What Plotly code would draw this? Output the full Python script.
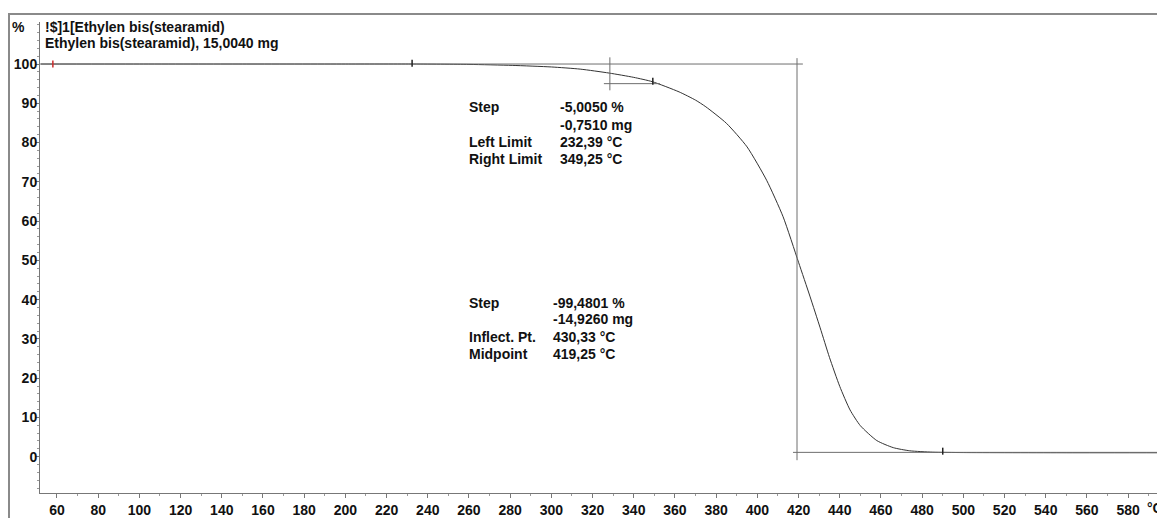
import plotly.graph_objects as go

# ---- data ----
temp_c = [52, 100, 150, 200, 232, 260, 281, 300, 314, 328, 340, 349, 362, 370, 375,
          385, 395, 404.5, 412.5, 420, 425.5, 430.5, 435, 440, 445, 450, 458, 466,
          474, 485, 500, 550, 598]
mass_pct = [100, 100, 100, 100, 100, 99.9, 99.65, 99.25, 98.7, 97.7, 96.6, 95.5, 92.9,
            90.8, 89.1, 84.9, 78.9, 70.4, 61.1, 49.5, 40.9, 32.8, 25.3, 17.9, 11.9,
            7.9, 4.1, 2.3, 1.5, 1.15, 1.05, 1.0, 1.0]

# evaluation construction lines
top_line_x = [52, 422.1]
top_line_y = [100, 100]
mid_vert_x = [419.25, 419.25]
mid_vert_y = [101.5, -0.9]
base_line_x = [417.3, 598]
base_line_y = [1.1, 1.1]
step1_vert_x = [328.4, 328.4]
step1_vert_y = [101.7, 93.3]
step1_hor_x = [325.5, 352.7]
step1_hor_y = [95.0, 95.0]

limit_x = [232.39, 349.25, 490.0]
limit_y = [100.2, 95.6, 1.4]
start_x = [58]
start_y = [100]

x_ticks = list(range(60, 600, 20))
y_ticks = list(range(0, 101, 10))

header_1 = "!$]1[Ethylen bis(stearamid)"
header_2 = "Ethylen bis(stearamid), 15,0040 mg"
step1_labels = ["Step", "", "Left Limit", "Right Limit"]
step1_values = ["-5,0050 %", "-0,7510 mg", "232,39 °C", "349,25 °C"]
step2_labels = ["Step", "", "Inflect. Pt.", "Midpoint"]
step2_values = ["-99,4801 %", "-14,9260 mg", "430,33 °C", "419,25 °C"]

FONT = "Liberation Sans, Arial, sans-serif"
CON = "#6e6e6e"
FS = 14

fig = go.Figure()
fig.add_trace(go.Scatter(x=temp_c, y=mass_pct, mode="lines",
                         line=dict(color="#333333", width=1, shape="spline", smoothing=0.6),
                         hoverinfo="skip"))
for xs, ys in [(top_line_x, top_line_y), (mid_vert_x, mid_vert_y), (base_line_x, base_line_y),
               (step1_vert_x, step1_vert_y), (step1_hor_x, step1_hor_y)]:
    fig.add_trace(go.Scatter(x=xs, y=ys, mode="lines",
                             line=dict(color=CON, width=1), hoverinfo="skip"))
fig.add_trace(go.Scatter(x=limit_x, y=limit_y, mode="markers",
                         marker=dict(symbol="line-ns", size=5, line=dict(color="#222", width=1.5)),
                         hoverinfo="skip"))
fig.add_trace(go.Scatter(x=start_x, y=start_y, mode="markers",
                         marker=dict(symbol="line-ns", size=5, line=dict(color="#cc2a2a", width=1.5)),
                         hoverinfo="skip"))

annots = []
row_y1 = [88.97, 84.46, 80.2, 75.8]
row_y2 = [39.2, 35.0, 30.4, 26.1]
for lab, val, yy in zip(step1_labels, step1_values, row_y1):
    if lab:
        annots.append(dict(x=259.2, y=yy, text=lab, xanchor="left"))
    annots.append(dict(x=303.4, y=yy, text=val, xanchor="left"))
for lab, val, yy in zip(step2_labels, step2_values, row_y2):
    if lab:
        annots.append(dict(x=259.2, y=yy, text=lab, xanchor="left"))
    annots.append(dict(x=299.8, y=yy, text=val, xanchor="left"))
annots.append(dict(x=53.0, y=109.4, text=header_1, xanchor="left"))
annots.append(dict(x=53.0, y=105.3, text=header_2, xanchor="left"))
for a in annots:
    a.update(xref="x", yref="y", yanchor="middle", showarrow=False,
             font=dict(family=FONT, size=FS, color="#111", weight="bold"))

annots.append(dict(xref="paper", yref="y", x=(18 - 40) / 1125, y=109.4, text="%",
                   xanchor="center", yanchor="middle", showarrow=False,
                   font=dict(family=FONT, size=FS, color="#111", weight="bold")))
annots.append(dict(xref="paper", yref="paper", x=(1145 - 40) / 1125, y=(493 - 508) / 471,
                   text="°C", xanchor="left", yanchor="middle", showarrow=False,
                   font=dict(family=FONT, size=FS, color="#111", weight="bold")))

# page body has an 8px margin, so the figure is 8px smaller and margins shifted
fig.update_layout(
    width=1157, height=510,
    margin=dict(l=32, r=0, t=14, b=25),
    paper_bgcolor="white", plot_bgcolor="white",
    showlegend=False,
    annotations=annots,
    shapes=[dict(type="rect", xref="paper", yref="paper",
                 x0=(9 - 40) / 1125, x1=1.05, y0=-0.2, y1=(493 - 14) / 471,
                 line=dict(color="#8a8a8a", width=2), fillcolor="rgba(0,0,0,0)", layer="below")],
    xaxis=dict(range=[51.75, 597.9], tickvals=x_ticks, showgrid=False, zeroline=False,
               showline=True, linecolor="#777", linewidth=1,
               ticks="outside", ticklen=4, tickcolor="#777",
               minor=dict(dtick=10, tick0=0, ticks="outside", ticklen=2, tickcolor="#999"),
               tickfont=dict(family=FONT, size=FS, color="#111", weight="bold")),
    yaxis=dict(range=[-9.25, 110.7], tickvals=y_ticks, showgrid=False, zeroline=False,
               showline=True, linecolor="#777", linewidth=1,
               ticks="outside", ticklen=4, tickcolor="#777", ticklabelstandoff=-5,
               minor=dict(dtick=2, tick0=0, ticks="outside", ticklen=2, tickcolor="#999"),
               tickfont=dict(family=FONT, size=FS, color="#111", weight="bold")),
)

fig.write_html("out.html")
